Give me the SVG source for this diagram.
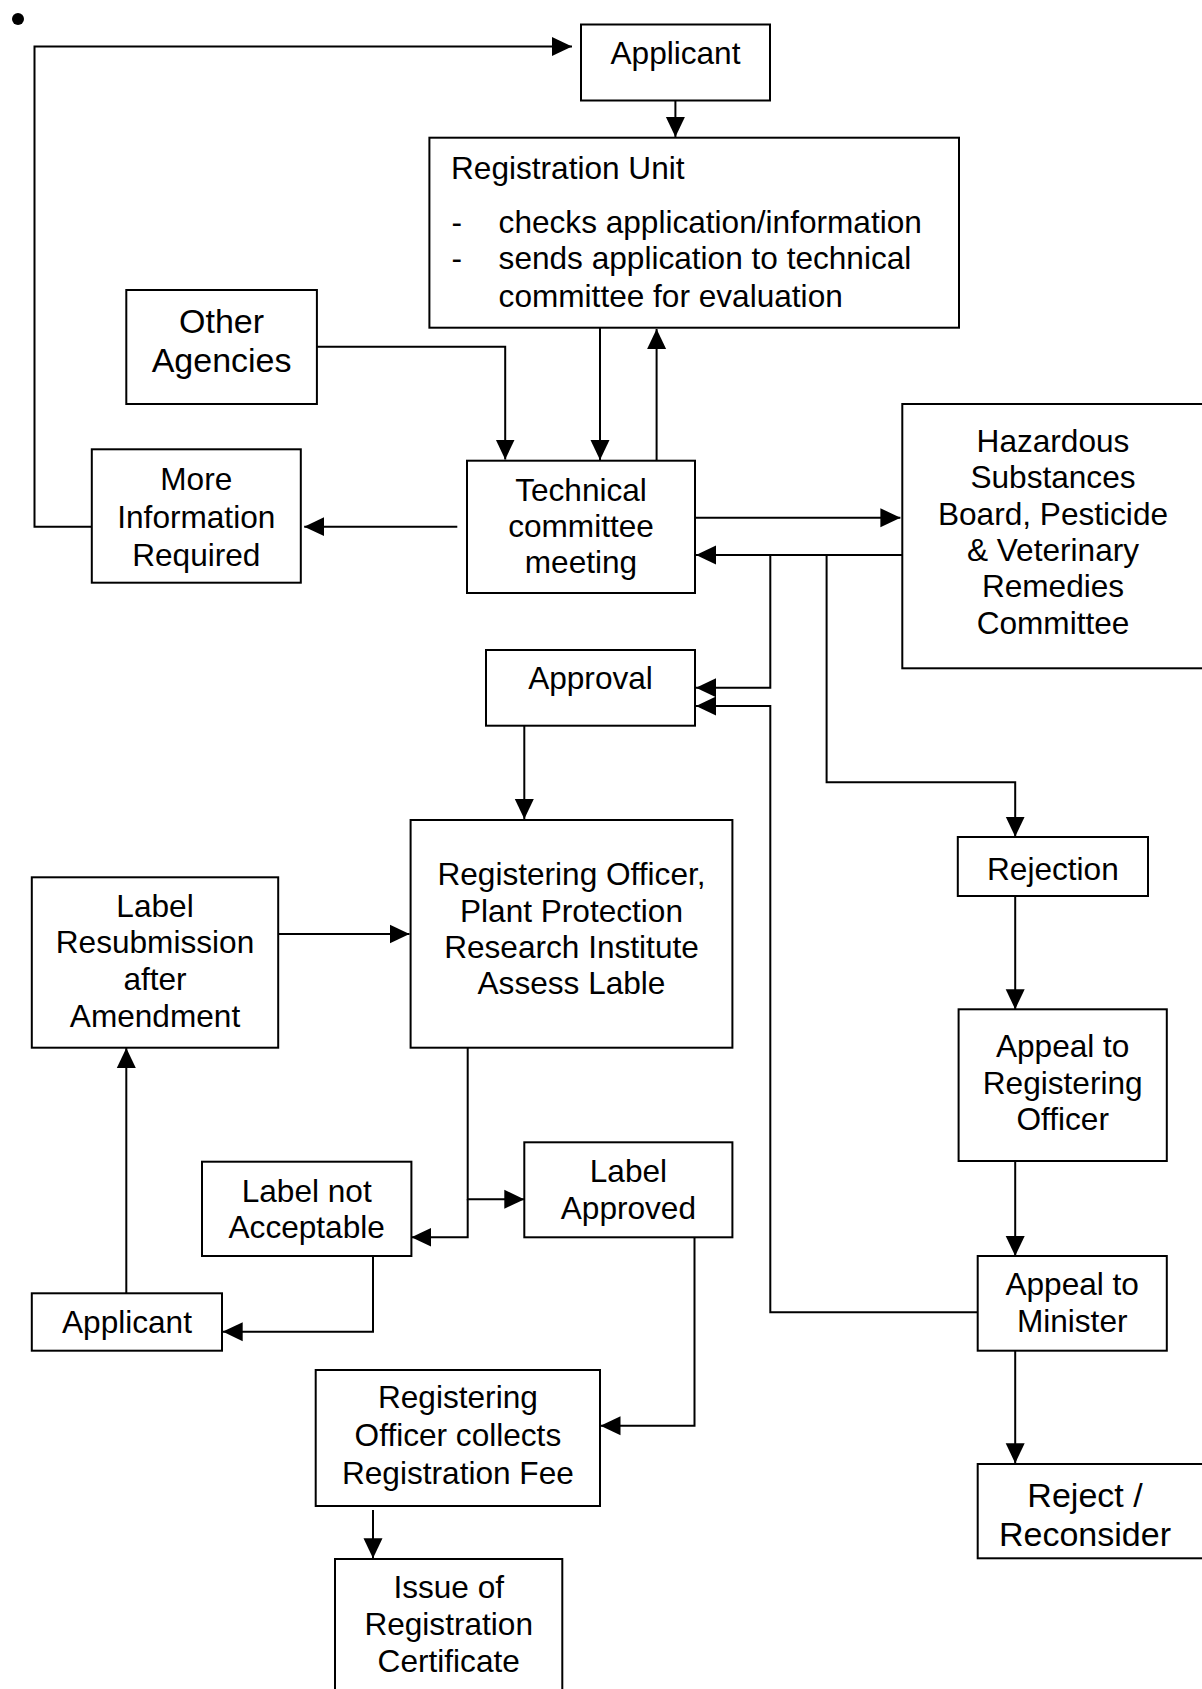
<svg xmlns="http://www.w3.org/2000/svg" width="1202" height="1689" viewBox="0 0 1202 1689">
<style>
.box{fill:#fff;stroke:#000;stroke-width:2}
.t{font-family:"Liberation Sans",Arial,sans-serif;font-size:31.6px;fill:#000;text-anchor:middle}
.tl{font-family:"Liberation Sans",Arial,sans-serif;font-size:31.6px;fill:#000}
.big{font-size:34px}
.c{fill:none;stroke:#000;stroke-width:2}
.a{marker-end:url(#arr)}
</style>
<defs>
<marker id="arr" viewBox="0 0 20 20" refX="20" refY="10" markerWidth="20" markerHeight="20" markerUnits="userSpaceOnUse" orient="auto">
<path d="M0,0.5 L20,10 L0,19.5 z" fill="#000"/>
</marker>
</defs>
<rect width="1202" height="1689" fill="#fff"/>
<circle cx="18" cy="19" r="6" fill="#000"/>

<g id="connectors">
<path class="c a" d="M91.8,526.7 H34.5 V46.5 H572"/>
<path class="c a" d="M675.4,100.7 V137"/>
<path class="c a" d="M600,328 V460"/>
<path class="c a" d="M656.6,460.7 V329"/>
<path class="c a" d="M317,346.7 H505.2 V459.5"/>
<path class="c a" d="M457.3,526.7 H304.2"/>
<path class="c a" d="M695,517.7 H900.4"/>
<path class="c a" d="M902.3,555 H696"/>
<path class="c a" d="M770.3,555 V687.7 H696"/>
<path class="c a" d="M977.7,1312.3 H770.3 V706 H696"/>
<path class="c a" d="M826.6,555 V782.3 H1015.2 V836.7"/>
<path class="c a" d="M1015.2,896 V1009.3"/>
<path class="c a" d="M1015.2,1161 V1256"/>
<path class="c a" d="M1015.2,1350.7 V1463.3"/>
<path class="c a" d="M524.3,725.7 V819"/>
<path class="c a" d="M278.2,934 H409.5"/>
<path class="c a" d="M467.7,1047.7 V1199.3 H524.3"/>
<path class="c a" d="M467.7,1199.3 V1237.3 H411.4"/>
<path class="c a" d="M373,1256 V1331.7 H222.7"/>
<path class="c a" d="M126.3,1293.3 V1048"/>
<path class="c a" d="M694.5,1237.3 V1425.7 H600.5"/>
<path class="c a" d="M373,1510 V1558.3"/>
</g>

<g id="applicant">
<rect class="box" x="581" y="24.5" width="189" height="76"/>
<text class="t" x="675.5" y="64">Applicant</text>
</g>

<g id="registration-unit">
<rect class="box" x="429.4" y="137.7" width="529.6" height="190"/>
<text class="tl" x="451" y="179">Registration Unit</text>
<text class="tl" x="451.6" y="233.3">-</text>
<text class="tl" x="498.6" y="233.3">checks application/information</text>
<text class="tl" x="451.6" y="269.3">-</text>
<text class="tl" x="498.6" y="269.3">sends application to technical</text>
<text class="tl" x="498.6" y="306.7">committee for evaluation</text>
</g>

<g id="other-agencies">
<rect class="box" x="126.3" y="290" width="190.6" height="114"/>
<text class="t big" x="221.6" y="333">Other</text>
<text class="t big" x="221.6" y="371.7">Agencies</text>
</g>

<g id="more-information">
<rect class="box" x="91.8" y="449.3" width="209" height="133.4"/>
<text class="t" x="196.3" y="490">More</text>
<text class="t" x="196.3" y="527.5">Information</text>
<text class="t" x="196.3" y="565.5">Required</text>
</g>

<g id="technical-committee">
<rect class="box" x="467" y="460.7" width="228" height="132.3"/>
<text class="t" x="581" y="501">Technical</text>
<text class="t" x="581" y="537">committee</text>
<text class="t" x="581" y="573.3">meeting</text>
</g>

<g id="hazardous-board">
<rect class="box" x="902.3" y="404" width="302" height="264.3"/>
<text class="t" x="1053" y="451.7">Hazardous</text>
<text class="t" x="1053" y="488.1">Substances</text>
<text class="t" x="1053" y="524.5">Board, Pesticide</text>
<text class="t" x="1053" y="560.9">&amp; Veterinary</text>
<text class="t" x="1053" y="597.3">Remedies</text>
<text class="t" x="1053" y="633.7">Committee</text>
</g>

<g id="approval">
<rect class="box" x="486" y="650" width="209" height="75.7"/>
<text class="t" x="590.5" y="689">Approval</text>
</g>

<g id="registering-officer">
<rect class="box" x="410.6" y="820" width="321.8" height="227.7"/>
<text class="t" x="571.5" y="885">Registering Officer,</text>
<text class="t" x="571.5" y="921.7">Plant Protection</text>
<text class="t" x="571.5" y="957.7">Research Institute</text>
<text class="t" x="571.5" y="994">Assess Lable</text>
</g>

<g id="label-resubmission">
<rect class="box" x="31.8" y="877.3" width="246.4" height="170.4"/>
<text class="t" x="155" y="916.7">Label</text>
<text class="t" x="155" y="953.3">Resubmission</text>
<text class="t" x="155" y="990">after</text>
<text class="t" x="155" y="1027.3">Amendment</text>
</g>

<g id="label-not-acceptable">
<rect class="box" x="202" y="1161.7" width="209.4" height="94.3"/>
<text class="t" x="306.7" y="1201.7">Label not</text>
<text class="t" x="306.7" y="1238.3">Acceptable</text>
</g>

<g id="label-approved">
<rect class="box" x="524.3" y="1142.3" width="208.1" height="95"/>
<text class="t" x="628.4" y="1182">Label</text>
<text class="t" x="628.4" y="1219">Approved</text>
</g>

<g id="applicant-2">
<rect class="box" x="31.8" y="1293.3" width="190.2" height="57.4"/>
<text class="t" x="127" y="1333.3">Applicant</text>
</g>

<g id="registering-officer-collects">
<rect class="box" x="315.7" y="1370" width="284.3" height="136"/>
<text class="t" x="457.9" y="1408.3">Registering</text>
<text class="t" x="457.9" y="1446">Officer collects</text>
<text class="t" x="457.9" y="1484">Registration Fee</text>
</g>

<g id="issue-certificate">
<rect class="box" x="335" y="1559" width="227.3" height="140"/>
<text class="t" x="448.7" y="1598.3">Issue of</text>
<text class="t" x="448.7" y="1635">Registration</text>
<text class="t" x="448.7" y="1671.7">Certificate</text>
</g>

<g id="rejection">
<rect class="box" x="957.8" y="837" width="190.2" height="59"/>
<text class="t" x="1052.9" y="880">Rejection</text>
</g>

<g id="appeal-registering-officer">
<rect class="box" x="958.6" y="1009.3" width="208.2" height="151.7"/>
<text class="t" x="1062.7" y="1056.7">Appeal to</text>
<text class="t" x="1062.7" y="1094">Registering</text>
<text class="t" x="1062.7" y="1130">Officer</text>
</g>

<g id="appeal-minister">
<rect class="box" x="977.7" y="1256" width="189.1" height="94.7"/>
<text class="t" x="1072.2" y="1295">Appeal to</text>
<text class="t" x="1072.2" y="1331.7">Minister</text>
</g>

<g id="reject-reconsider">
<rect class="box" x="977.7" y="1464" width="226" height="94.3"/>
<text class="t big" x="1085" y="1506.7">Reject /</text>
<text class="t big" x="1085" y="1546">Reconsider</text>
</g>
</svg>
